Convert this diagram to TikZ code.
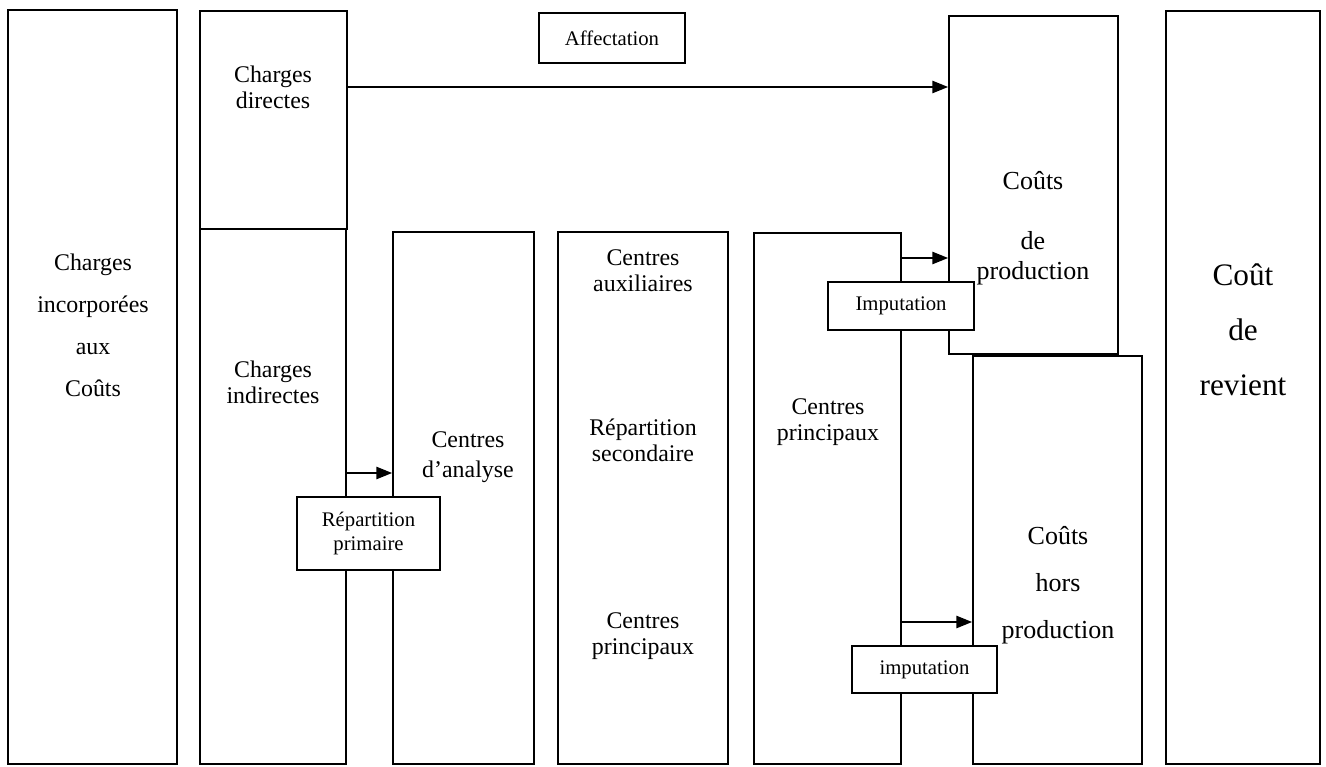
\documentclass[tikz,border=0pt]{standalone}
\usepackage{fontspec}
\setmainfont{Liberation Serif}
\usetikzlibrary{arrows.meta,fit}

\tikzset{
  bloc/.style={draw, line width=1pt, inner sep=0pt},
  etiq/.style={draw, fill=white, line width=1pt, inner sep=0pt},
  txt/.style={align=center, inner sep=0pt, font=\fontsize{13.6}{14.8}\selectfont},
  petit/.style={align=center, inner sep=0pt, font=\fontsize{11.8}{14.2}\selectfont},
  fleche/.style={line width=1pt, -{Triangle[length=9pt,width=7pt]}},
}

\begin{document}
\begin{tikzpicture}[
    % one unit is one pixel of the page, y runs downwards
    x={(0.02cm,0cm)},
    y={(0cm,-0.02cm)}
]
    \useasboundingbox (0,0) rectangle (1326,767);

    % --- Columns ---
    \node[bloc, fit={(8,10) (177,764)}] (inc) {};
    \node[bloc, fit={(200,11) (347,229)}] (chdir) {};
    \node[bloc, fit={(200,229) (346,764)}] (chind) {};
    \node[bloc, fit={(393,232) (534,764)}] (ana) {};
    \node[bloc, fit={(558,232) (728,764)}] (sec) {};
    \node[bloc, fit={(754,233) (901,764)}] (princ) {};
    \node[bloc, fit={(949,16) (1118,354)}] (prod) {};
    \node[bloc, fit={(973,356) (1142,764)}] (hors) {};
    \node[bloc, fit={(1166,11) (1320,764)}] (rev) {};

    % --- Texts of the columns ---
    \node[txt, font=\fontsize{13.6}{23.9}\selectfont] (t-inc) at (93,325) {Charges\\incorporées\\aux\\Coûts};
    \node[txt] (t-dir) at (273,87) {Charges\\directes};
    \node[txt] (t-ind) at (273,382) {Charges\\indirectes};
    \node[txt, font=\fontsize{13.6}{17}\selectfont] (t-ana) at (468,457) {Centres\\d’analyse};
    \node[txt] (t-aux) at (643,271) {Centres\\auxiliaires};
    \node[txt] (t-sec) at (643,440) {Répartition\\secondaire};
    \node[txt] (t-cp) at (643,636) {Centres\\principaux};
    \node[txt] (t-princ) at (828,422) {Centres\\principaux};
    \node[txt, font=\fontsize{14.8}{17}\selectfont] (t-prod) at (1033,228) {Coûts\\[17pt]de\\production};
    \node[txt, font=\fontsize{14.8}{26.7}\selectfont] (t-hors) at (1058,585) {Coûts\\hors\\production};
    \node[txt, font=\fontsize{17.8}{31.3}\selectfont] (t-rev) at (1243,330) {Coût\\de\\revient};

    % --- Arrows ---
    \coordinate (rp-in) at (0,473);
    \coordinate (imp-in) at (0,258);
    \coordinate (imph-in) at (0,622);
    \draw[fleche] (chdir.east |- t-dir) -- (t-dir -| prod.west);
    \draw[fleche] (rp-in -| chind.east) -- (rp-in -| ana.west);
    \draw[fleche] (imp-in -| princ.east) -- (imp-in -| prod.west);
    \draw[fleche] (imph-in -| princ.east) -- (imph-in -| hors.west);

    % --- Label boxes, on top of the columns ---
    \node[etiq, fit={(539,13) (685,63)}] (aff) {};
    \node[etiq, fit={(297,497) (440,570)}] (rp) {};
    \node[etiq, fit={(828,282) (974,330)}] (imp) {};
    \node[etiq, fit={(852,646) (997,693)}] (imph) {};
    \node[petit] (t-aff) at (aff) {Affectation};
    \node[petit] (t-rp) at (rp) {Répartition\\primaire};
    \node[petit] (t-imp) at (imp) {Imputation};
    \node[petit] (t-imph) at (imph) {imputation};
\end{tikzpicture}
\end{document}
